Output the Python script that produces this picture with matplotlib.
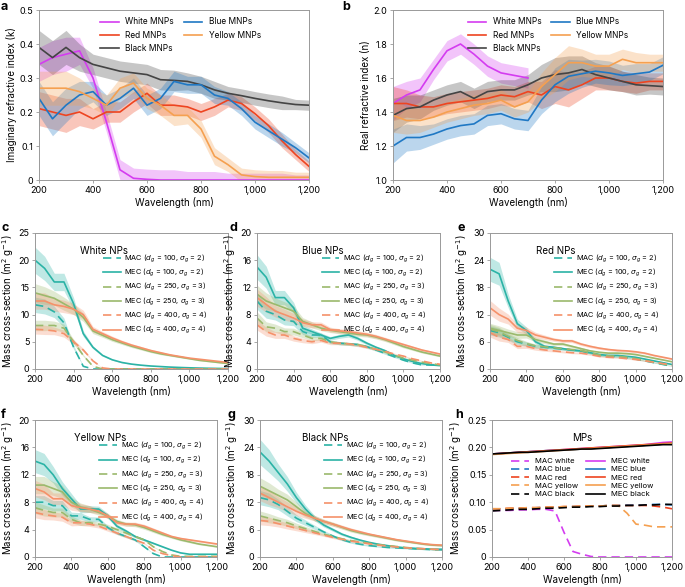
import numpy as np
import matplotlib
matplotlib.use("Agg")
import matplotlib.pyplot as plt

plt.rcParams['font.family'] = ['Inter', 'DejaVu Sans']
plt.rcParams['mathtext.fontset'] = 'dejavusans'

wl = np.arange(200, 1201, 50)
nan = np.nan

# ---- panel a: imaginary refractive index (k)
k_white = [0.34, 0.36, 0.37, 0.38, 0.30, 0.17, 0.03, 0.005, 0.002, 0, 0, 0, 0, 0, 0, 0, 0, 0, 0, 0, 0]
k_blue = [0.24, 0.18, 0.22, 0.25, 0.26, 0.22, 0.24, 0.27, 0.22, 0.24, 0.29, 0.28, 0.28, 0.25, 0.24, 0.21, 0.17, 0.145, 0.12, 0.095, 0.065]
k_red = [0.21, 0.20, 0.19, 0.20, 0.18, 0.20, 0.20, 0.23, 0.255, 0.22, 0.22, 0.215, 0.20, 0.215, 0.235, 0.225, 0.195, 0.16, 0.115, 0.075, 0.04]
k_yellow = [0.27, 0.27, 0.27, 0.26, 0.24, 0.22, 0.27, 0.285, 0.24, 0.22, 0.19, 0.19, 0.15, 0.07, 0.045, 0.015, 0.01, 0.008, 0.008, 0.008, 0.008]
k_black = [0.39, 0.36, 0.39, 0.36, 0.34, 0.33, 0.32, 0.315, 0.31, 0.295, 0.293, 0.29, 0.28, 0.265, 0.255, 0.248, 0.24, 0.233, 0.227, 0.222, 0.22]
k_err = [0.05, 0.05, 0.05, 0.04, 0.03, 0.03, 0.03, 0.03, 0.03, 0.03, 0.03, 0.025, 0.025, 0.025, 0.02, 0.02, 0.02, 0.02, 0.02, 0.015, 0.015]

# ---- panel b: real refractive index (n)
n_white = [1.45, 1.50, 1.53, 1.65, 1.76, 1.80, 1.74, 1.67, 1.63, 1.615, 1.60, nan, nan, nan, nan, nan, nan, nan, nan, nan, nan]
n_blue = [1.20, 1.25, 1.25, 1.27, 1.30, 1.32, 1.33, 1.38, 1.39, 1.36, 1.35, 1.47, 1.56, 1.61, 1.625, 1.64, 1.63, 1.615, 1.625, 1.635, 1.675]
n_red = [1.45, 1.45, 1.43, 1.43, 1.45, 1.46, 1.47, 1.48, 1.50, 1.49, 1.52, 1.50, 1.55, 1.53, 1.56, 1.60, 1.60, 1.58, 1.57, 1.58, 1.58]
n_yellow = [1.38, 1.35, 1.35, 1.37, 1.40, 1.42, 1.44, 1.45, 1.47, 1.43, 1.46, 1.55, 1.62, 1.69, 1.69, 1.67, 1.67, 1.71, 1.69, 1.69, 1.69]
n_black = [1.38, 1.42, 1.43, 1.47, 1.50, 1.52, 1.48, 1.52, 1.53, 1.53, 1.56, 1.60, 1.62, 1.63, 1.65, 1.62, 1.60, 1.58, 1.56, 1.555, 1.55]
n_err = [0.10, 0.08, 0.07, 0.06, 0.06, 0.06, 0.06, 0.06, 0.06, 0.06, 0.06, 0.08, 0.10, 0.10, 0.08, 0.07, 0.07, 0.06, 0.06, 0.05, 0.05]

# ---- panels c-g: MAC / MEC for three size distributions
np_names = ['White NPs', 'Blue NPs', 'Red NPs', 'Yellow NPs', 'Black NPs']
np_ylim = [25, 20, 30, 20, 30]
np_yticks = [[0, 5, 10, 15, 20, 25], [0, 4, 8, 12, 16, 20], [0, 6, 12, 18, 24, 30],
             [0, 4, 8, 12, 16, 20], [0, 6, 12, 18, 24, 30]]

white_np = {
    'mac100': [11.8, 11.5, 10.5, 8.5, 4.0, 0.5, 0, 0, 0, 0, 0, 0, 0, 0, 0, 0, 0, 0, 0, 0, 0],
    'mec100': [20, 18.5, 16, 16, 12, 6.5, 4, 2.5, 1.7, 1.2, 0.9, 0.7, 0.55, 0.45, 0.35, 0.28, 0.22, 0.17, 0.13, 0.1, 0.08],
    'mac250': [8, 8, 8, 7.5, 5, 2.5, 0.5, 0, 0, 0, 0, 0, 0, 0, 0, 0, 0, 0, 0, 0, 0],
    'mec250': [14, 13.5, 13, 12, 11, 9.5, 7, 6.2, 5.4, 4.8, 4.2, 3.7, 3.2, 2.8, 2.5, 2.2, 1.9, 1.6, 1.4, 1.2, 1.0],
    'mac400': [7.3, 7.2, 7, 6.5, 5, 3.5, 1.5, 0.2, 0, 0, 0, 0, 0, 0, 0, 0, 0, 0, 0, 0, 0],
    'mec400': [12.5, 12.5, 11.8, 11.5, 11, 10, 7.3, 6.5, 5.7, 5, 4.4, 3.9, 3.4, 3.0, 2.6, 2.3, 2.0, 1.8, 1.6, 1.4, 1.2],
}
blue_np = {
    'mac100': [10, 8.5, 8, 7.2, 7, 5.5, 5, 5, 4, 3.8, 3.7, 3.6, 3.3, 2.8, 2.3, 1.8, 1.3, 0.9, 0.6, 0.6, 0.6],
    'mec100': [15, 13.5, 10.5, 10.5, 9, 6, 5.5, 5, 4.5, 4.8, 5, 4.5, 3.8, 3.2, 2.7, 2.0, 1.5, 1.1, 0.8, 0.6, 0.5],
    'mac250': [7.5, 6.2, 6, 5.5, 5.5, 5, 4.5, 4.5, 4, 3.8, 3.7, 3.6, 3.3, 2.9, 2.5, 2.0, 1.6, 1.3, 1.0, 0.8, 0.6],
    'mec250': [11, 10, 9.5, 9, 8.5, 7, 6.5, 6, 5.7, 5.5, 5.3, 5.1, 5, 4.7, 4.3, 3.8, 3.3, 2.9, 2.5, 2.2, 1.9],
    'mac400': [6.5, 5.5, 5, 5, 4.5, 4.2, 4, 4.2, 3.8, 3.8, 3.7, 3.5, 3.2, 2.9, 2.6, 2.2, 1.9, 1.5, 1.2, 0.9, 0.7],
    'mec400': [10.5, 9.5, 8.5, 8, 7.5, 6.8, 6.5, 6.5, 5.8, 5.6, 5.5, 5.3, 5.1, 4.8, 4.4, 4.0, 3.6, 3.2, 2.8, 2.5, 2.2],
}
red_np = {
    'mac100': [8.5, 8, 7, 6, 5.5, 5, 4.8, 4.6, 4.4, 4.2, 4, 3.5, 3, 2.8, 2.7, 2.5, 2.2, 1.8, 1.4, 1.0, 0.6],
    'mec100': [22, 21, 15, 10, 8.5, 6, 5, 4.8, 4.5, 4.2, 4, 3.6, 3.2, 3, 3, 2.8, 2.6, 2.2, 1.8, 1.4, 1.0],
    'mac250': [8.8, 8.2, 7.2, 6.3, 5.6, 5.1, 4.9, 4.7, 4.5, 4.3, 4.1, 3.6, 3.1, 2.9, 2.8, 2.6, 2.3, 1.9, 1.5, 1.1, 0.7],
    'mec250': [9, 8.5, 8, 7.5, 7.5, 6.5, 6, 5.5, 5.5, 5, 4.5, 4, 3.7, 3.5, 3.5, 3.4, 3.2, 2.8, 2.4, 2.0, 1.6],
    'mac400': [8, 7, 6.5, 5, 5, 4.5, 4.2, 4, 3.8, 3.6, 3.5, 3.2, 2.8, 2.6, 2.5, 2.3, 2.1, 1.8, 1.5, 1.2, 0.9],
    'mec400': [13.5, 12, 11, 9, 8.5, 7.5, 7, 6.5, 6.2, 6.2, 5.5, 5, 4.6, 4.3, 4.1, 4, 3.8, 3.5, 3, 2.6, 2.2],
}
yellow_np = {
    'mac100': [8, 8, 7.5, 7.5, 6, 6, 5.5, 5.5, 4.3, 3.5, 3, 2.5, 1.5, 0.5, 0, 0, 0, 0, 0, 0, 0],
    'mec100': [14, 13.5, 12, 10, 8.5, 7, 7, 7, 6, 4.5, 3.8, 3, 2.5, 2, 1.5, 1, 0.6, 0.4, 0.4, 0.4, 0.4],
    'mac250': [7.2, 6.8, 6.5, 6.5, 5.5, 5, 5, 4.8, 4.5, 4, 3.5, 3, 2.5, 1.5, 0.8, 0.3, 0.1, 0.1, 0.1, 0.1, 0.1],
    'mec250': [10.5, 10.5, 10, 9.5, 8, 7.3, 7, 6.5, 6, 5.2, 4.8, 4.7, 4.3, 3.8, 3.3, 2.9, 2.5, 2.2, 1.9, 1.7, 1.5],
    'mac400': [6.5, 6.2, 6, 5.8, 5, 5, 4.8, 4.5, 4, 3.5, 3, 2.5, 2, 1, 0.5, 0.2, 0, 0, 0, 0, 0],
    'mec400': [10, 9.5, 8.5, 8.5, 7.5, 7.2, 7, 6.7, 6, 5, 4.8, 4.8, 4.5, 4, 3.5, 3, 2.7, 2.5, 2.3, 2.1, 1.9],
}
black_np = {
    'mac100': [13, 12.5, 11.5, 10, 8.5, 7.5, 6.5, 5.5, 4.6, 3.8, 3.2, 2.8, 2.5, 2.3, 2.1, 2, 1.9, 1.8, 1.7, 1.6, 1.6],
    'mec100': [23, 21, 18.5, 16, 13, 10.5, 8.5, 7, 6, 5, 4.3, 3.7, 3.2, 2.8, 2.5, 2.2, 2, 1.9, 1.8, 1.7, 1.7],
    'mac250': [9, 8.5, 8, 7.5, 6.8, 6.2, 5.6, 5, 4.5, 4, 3.6, 3.3, 3, 2.7, 2.5, 2.3, 2.1, 1.9, 1.8, 1.7, 1.6],
    'mec250': [15.5, 14.5, 13.5, 12.5, 11, 9.5, 8.5, 7.8, 7.2, 6.5, 5.8, 5.3, 4.9, 4.5, 4.1, 3.7, 3.4, 3.1, 2.8, 2.6, 2.5],
    'mac400': [8, 7.8, 7.3, 6.8, 6.3, 5.8, 5.3, 4.8, 4.3, 3.9, 3.5, 3.2, 2.9, 2.6, 2.4, 2.2, 2.0, 1.9, 1.8, 1.7, 1.6],
    'mec400': [14, 13, 12, 11, 10, 9.2, 8.5, 7.8, 7.2, 6.6, 6, 5.5, 5, 4.6, 4.2, 3.8, 3.5, 3.2, 2.9, 2.7, 2.6],
}
# relative uncertainty of the NP curves
np_rel_err = [0.12, 0.12, 0.1, 0.1, 0.09, 0.08, 0.07, 0.06, 0.06, 0.06, 0.06, 0.06, 0.06, 0.06, 0.06, 0.06, 0.06, 0.06, 0.06, 0.06, 0.06]

# ---- panel h: MPs
mp_mec_white = [0.188, 0.189, 0.190, 0.191, 0.192, 0.193, 0.194, 0.195, 0.196, 0.197, 0.198, 0.199, 0.200, 0.201, 0.202, 0.203, 0.204, 0.205, 0.207, 0.209, 0.210]
mp_mec_blue = [0.188, 0.189, 0.190, 0.191, 0.192, 0.193, 0.194, 0.195, 0.195, 0.196, 0.197, 0.198, 0.199, 0.200, 0.201, 0.202, 0.203, 0.204, 0.205, 0.206, 0.207]
mp_mec_red = [0.188, 0.189, 0.190, 0.191, 0.192, 0.193, 0.194, 0.195, 0.196, 0.197, 0.198, 0.199, 0.200, 0.201, 0.202, 0.203, 0.204, 0.205, 0.206, 0.207, 0.208]
mp_mec_yellow = [0.187, 0.188, 0.189, 0.190, 0.191, 0.192, 0.193, 0.194, 0.195, 0.196, 0.197, 0.198, 0.199, 0.200, 0.201, 0.202, 0.203, 0.204, 0.205, 0.206, 0.207]
mp_mec_black = [0.188, 0.189, 0.190, 0.191, 0.191, 0.192, 0.193, 0.194, 0.195, 0.196, 0.197, 0.197, 0.198, 0.199, 0.200, 0.201, 0.202, 0.203, 0.204, 0.205, 0.205]
mp_mac_white = [0.085, 0.085, 0.085, 0.086, 0.086, 0.087, 0.087, 0.084, 0.045, 0.01, 0.005, 0.001, 0, 0, 0, 0, 0, 0, 0, 0, 0]
mp_mac_blue = [0.087, 0.088, 0.088, 0.089, 0.089, 0.090, 0.090, 0.091, 0.091, 0.092, 0.092, 0.093, 0.093, 0.094, 0.094, 0.095, 0.095, 0.095, 0.096, 0.096, 0.095]
mp_mac_red = [0.088, 0.088, 0.089, 0.089, 0.090, 0.090, 0.091, 0.091, 0.092, 0.092, 0.093, 0.093, 0.093, 0.094, 0.094, 0.094, 0.094, 0.094, 0.093, 0.091, 0.088]
mp_mac_yellow = [0.088, 0.088, 0.089, 0.089, 0.090, 0.090, 0.091, 0.091, 0.092, 0.092, 0.093, 0.093, 0.093, 0.094, 0.094, 0.080, 0.060, 0.058, 0.055, 0.055, 0.055]
mp_mac_black = [0.084, 0.085, 0.086, 0.087, 0.087, 0.088, 0.089, 0.089, 0.090, 0.091, 0.091, 0.092, 0.092, 0.093, 0.093, 0.094, 0.094, 0.095, 0.095, 0.096, 0.096]

C_WHITE, C_BLUE, C_RED, C_YEL, C_BLK = '#d43cf0', '#1f78c4', '#ee4420', '#f5a050', '#444444'
C_100, C_250, C_400 = '#2bb3a6', '#9bb96c', '#f5916a'
GRAY = '#999999'

W, H = 685, 587
fig = plt.figure(figsize=(W / 100, H / 100), dpi=100)


def box(x0, x1, ytop, ybot, letter, lx):
    fig.text(lx / W, 1 - max(ytop - 11, 1) / H, letter, fontsize=9, fontweight='bold', va='top')
    return fig.add_axes([x0 / W, 1 - ybot / H, (x1 - x0) / W, (ybot - ytop) / H])


def style(ax, ylabel, ylim, yticks, yfmt=None):
    ax.set_xlim(200, 1200)
    ax.set_ylim(*ylim)
    ax.set_xticks([200, 400, 600, 800, 1000, 1200])
    ax.set_xticklabels(['200', '400', '600', '800', '1,000', '1,200'])
    ax.set_yticks(yticks)
    if yfmt:
        ax.set_yticklabels([yfmt(v) for v in yticks])
    for s in ax.spines.values():
        s.set_color(GRAY)
        s.set_linewidth(0.7)
    ax.tick_params(labelsize=6.5, length=2, width=0.6, color=GRAY, pad=2)
    ax.set_xlabel('Wavelength (nm)', fontsize=7, labelpad=2)
    ax.set_ylabel(ylabel, fontsize=7, labelpad=2)


def band(ax, y, err, color, ls='-', lw=1.2, label=None, rel=False):
    y = np.array(y, dtype=float)
    e = np.array(err) * (y if rel else 1)
    ax.fill_between(wl, y - e, y + e, color=color, alpha=0.3, lw=0)
    ax.plot(wl, y, color=color, ls=ls, lw=lw, label=label)


# a
ax = box(39, 309, 10, 180, 'a', 1)
for y, c, lab in [(k_white, C_WHITE, 'White MNPs'), (k_red, C_RED, 'Red MNPs'),
                  (k_black, C_BLK, 'Black MNPs'), (k_blue, C_BLUE, 'Blue MNPs'),
                  (k_yellow, C_YEL, 'Yellow MNPs')]:
    band(ax, y, k_err, c, label=lab)
style(ax, 'Imaginary refractive index (k)', (0, 0.5), [0, 0.1, 0.2, 0.3, 0.4, 0.5],
      lambda v: '0' if v == 0 else f'{v:.1f}')
ax.legend(ncol=2, fontsize=6, frameon=False, loc='upper right', bbox_to_anchor=(0.85, 1.0),
          handlelength=2.2, columnspacing=1.2)

# b
ax = box(393, 663, 10, 180, 'b', 342)
for y, c, lab in [(n_white, C_WHITE, 'White MNPs'), (n_red, C_RED, 'Red MNPs'),
                  (n_black, C_BLK, 'Black MNPs'), (n_blue, C_BLUE, 'Blue MNPs'),
                  (n_yellow, C_YEL, 'Yellow MNPs')]:
    band(ax, y, n_err, c, label=lab)
style(ax, 'Real refractive index (n)', (1.0, 2.0), [1.0, 1.2, 1.4, 1.6, 1.8, 2.0],
      lambda v: f'{v:.1f}')
ax.legend(ncol=2, fontsize=6, frameon=False, loc='upper right', bbox_to_anchor=(0.9, 1.0),
          handlelength=2.2, columnspacing=1.2)

# c-g
np_sets = [white_np, blue_np, red_np, yellow_np, black_np]
np_boxes = [(35, 228, 233, 369), (257, 440, 233, 369), (490, 672, 233, 369),
            (35, 217, 420, 557), (260, 442, 420, 557)]
np_letter_x = [1, 229, 458, 1, 227]
ylab = 'Mass cross-section (m$^2$ g$^{-1}$)'
for i, (d, name) in enumerate(zip(np_sets, np_names)):
    ax = box(*np_boxes[i], 'cdefg'[i], np_letter_x[i])
    for key, c, dg, sg in [('100', C_100, 100, 2), ('250', C_250, 250, 3), ('400', C_400, 400, 4)]:
        band(ax, d['mac' + key], np_rel_err, c, ls=(0, (5, 3)),
             label=f'MAC ($d_g$ = {dg}, $\\sigma_g$ = {sg})', rel=True)
        band(ax, d['mec' + key], np_rel_err, c,
             label=f'MEC ($d_g$ = {dg}, $\\sigma_g$ = {sg})', rel=True)
    style(ax, ylab, (0, np_ylim[i]), np_yticks[i])
    ax.text(0.36, 0.87, name, transform=ax.transAxes, fontsize=7, ha='center', va='center')
    ax.legend(fontsize=5.3, frameon=False, loc='center left', bbox_to_anchor=(0.33, 0.55),
              handlelength=2.4, handletextpad=0.5, labelspacing=0.25, borderpad=0.1)

# h
ax = box(492, 672, 420, 557, 'h', 455)
for y, c, lab in [(mp_mac_white, C_WHITE, 'MAC white'), (mp_mac_blue, C_BLUE, 'MAC blue'),
                  (mp_mac_red, C_RED, 'MAC red'), (mp_mac_yellow, C_YEL, 'MAC yellow'),
                  (mp_mac_black, 'black', 'MAC black')]:
    ax.plot(wl, y, color=c, ls=(0, (5, 3)), lw=1.2, label=lab)
for y, c, lab in [(mp_mec_white, C_WHITE, 'MEC white'), (mp_mec_blue, C_BLUE, 'MEC blue'),
                  (mp_mec_red, C_RED, 'MEC red'), (mp_mec_yellow, C_YEL, 'MEC yellow'),
                  (mp_mec_black, 'black', 'MEC black')]:
    ax.plot(wl, y, color=c, lw=1.2, label=lab)
style(ax, ylab, (0, 0.25), [0, 0.05, 0.10, 0.15, 0.20, 0.25],
      lambda v: '0' if v == 0 else f'{v:.2f}')
ax.text(0.5, 0.87, 'MPs', transform=ax.transAxes, fontsize=7, ha='center', va='center')
ax.legend(ncol=2, fontsize=5.5, frameon=False, loc='center', bbox_to_anchor=(0.5, 0.58),
          handlelength=2.4, labelspacing=0.25, columnspacing=1.0, borderpad=0.1)

fig.savefig('out.png', dpi=100)
